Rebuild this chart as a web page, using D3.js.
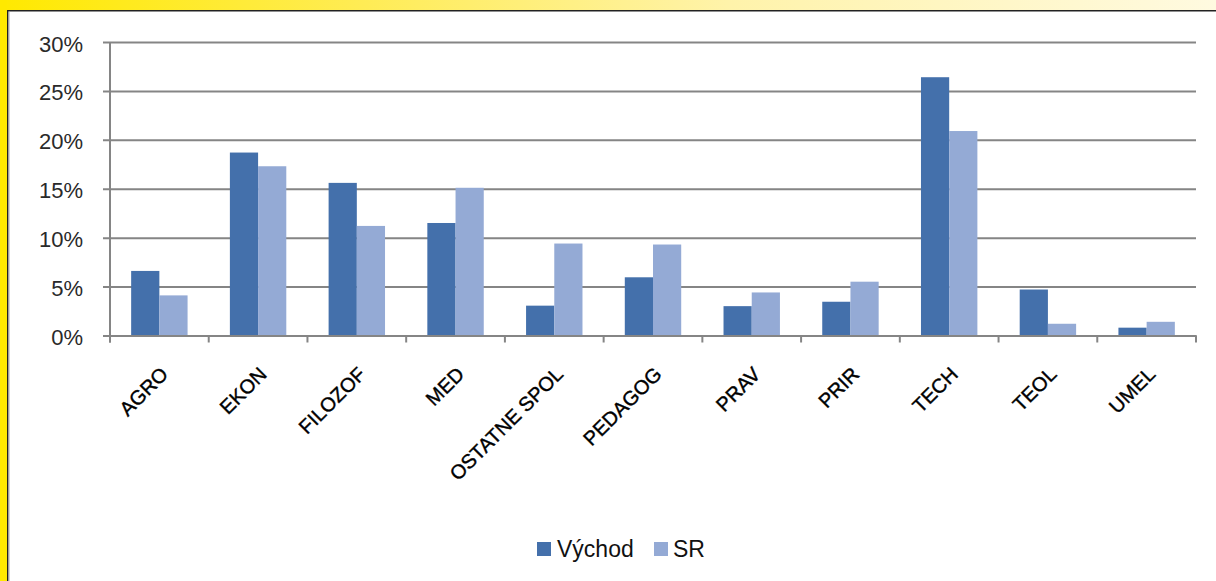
<!DOCTYPE html>
<html>
<head>
<meta charset="utf-8">
<script src="https://cdn.jsdelivr.net/npm/d3@7"></script>
<style>
  html, body { margin: 0; padding: 0; background: #fff; }
  svg { display: block; }
</style>
</head>
<body>
<svg id="chart" width="1216" height="581"></svg>
<script>
const categories = ["AGRO", "EKON", "FILOZOF", "MED", "OSTATNE SPOL", "PEDAGOG", "PRAV", "PRIR", "TECH", "TEOL", "UMEL"];
const seriesNames = ["Východ", "SR"];
const vychod = [6.6, 18.7, 15.6, 11.5, 3.05, 5.95, 3.0, 3.45, 26.4, 4.7, 0.8];
const sr = [4.1, 17.3, 11.2, 15.1, 9.4, 9.3, 4.4, 5.5, 20.9, 1.2, 1.4];
const yTicks = [0, 5, 10, 15, 20, 25, 30];
const colors = ["#4470AB", "#94AAD5"];

(function () {
const svg = d3.select("#chart");
const W = 1216, H = 581;
const pLeft = 110, pRight = 1196, pTop = 42, pBottom = 335.5;

// frame
const defs = svg.append("defs");
const grad = defs.append("linearGradient").attr("id", "topGrad").attr("x1", "0").attr("x2", "1").attr("y1", "0").attr("y2", "0");
grad.append("stop").attr("offset", "0").attr("stop-color", "#FFE900");
grad.append("stop").attr("offset", "0.3").attr("stop-color", "#FFEC55");
grad.append("stop").attr("offset", "0.6").attr("stop-color", "#FFF3AA");
grad.append("stop").attr("offset", "1").attr("stop-color", "#FFFAE0");
svg.append("rect").attr("x", 0).attr("y", 0).attr("width", W).attr("height", 10).attr("fill", "url(#topGrad)");
svg.append("rect").attr("x", 0).attr("y", 0).attr("width", 7).attr("height", H).attr("fill", "#FFE900");
svg.append("rect").attr("x", 7).attr("y", 10).attr("width", W - 7).attr("height", 1.5).attr("fill", "#222");
svg.append("rect").attr("x", 7).attr("y", 10).attr("width", 1.5).attr("height", H - 10).attr("fill", "#222");
svg.append("rect").attr("x", 8.5).attr("y", 11.5).attr("width", 1).attr("height", H - 11.5).attr("fill", "#aaa");

const x0 = d3.scaleBand().domain(categories).range([pLeft, pRight]).paddingInner(0).paddingOuter(0);
const x1 = d3.scaleBand().domain(seriesNames).range([0, x0.bandwidth()]).paddingInner(0).paddingOuter(0.75);
const y = d3.scaleLinear().domain([0, 30]).range([pBottom, pTop]);

// gridlines
const yAxis = d3.axisLeft(y).tickValues(yTicks).tickSize(-(pRight - pLeft)).tickPadding(0).tickFormat("");
const gy = svg.append("g").attr("transform", `translate(${pLeft},0)`).call(yAxis);
gy.select(".domain").remove();
gy.selectAll(".tick line").attr("stroke", "#858585").attr("stroke-width", 2).attr("x1", -7);

// y labels
svg.append("g").selectAll("text").data(yTicks).join("text")
  .attr("x", 83).attr("y", d => y(d) + 2)
  .attr("text-anchor", "end").attr("dominant-baseline", "central")
  .attr("font-family", "Liberation Sans, Arial, sans-serif").attr("font-size", 22)
  .attr("fill", "#2a2a2a")
  .text(d => d + "%");

// bars
const data = categories.map((c, i) => ({ cat: c, vals: [vychod[i], sr[i]] }));
const groups = svg.append("g").selectAll("g").data(data).join("g")
  .attr("transform", d => `translate(${x0(d.cat)},0)`);
groups.selectAll("rect").data(d => d.vals.map((v, k) => ({ k, v }))).join("rect")
  .attr("x", d => x1(seriesNames[d.k]))
  .attr("width", x1.bandwidth())
  .attr("y", d => y(d.v))
  .attr("height", d => y(0) - y(d.v))
  .attr("fill", d => colors[d.k]);

// y axis line
svg.append("line").attr("x1", pLeft).attr("x2", pLeft).attr("y1", pTop).attr("y2", pBottom + 7)
  .attr("stroke", "#858585").attr("stroke-width", 2);

// x axis
const xAxis = d3.axisBottom(x0).tickSize(0).tickFormat("");
const gx = svg.append("g").attr("transform", `translate(0,${pBottom})`).call(xAxis);
gx.select(".domain").attr("stroke", "#858585").attr("stroke-width", 2);
gx.selectAll(".tick").remove();
const bounds = categories.map(c => x0(c)).concat([pRight]);
svg.append("g").selectAll("line").data(bounds).join("line")
  .attr("x1", d => d).attr("x2", d => d).attr("y1", pBottom).attr("y2", pBottom + 7)
  .attr("stroke", "#858585").attr("stroke-width", 2);

// x labels
svg.append("g").selectAll("text").data(categories).join("text")
  .attr("transform", d => `translate(${x0(d) + x0.bandwidth() / 2 + 10},${pBottom + 40}) rotate(-45)`)
  .attr("text-anchor", "end")
  .attr("font-family", "Liberation Sans, Arial, sans-serif").attr("font-size", 20)
  .attr("fill", "#000").attr("stroke", "#000").attr("stroke-width", 0.4)
  .text(d => d);

// legend
const legendItems = [{ name: seriesNames[0], x: 537, tx: 557 }, { name: seriesNames[1], x: 654, tx: 673 }];
const lg = svg.append("g");
lg.selectAll("rect").data(legendItems).join("rect")
  .attr("x", d => d.x).attr("y", 542).attr("width", 14).attr("height", 14)
  .attr("fill", (d, i) => colors[i]);
lg.selectAll("text").data(legendItems).join("text")
  .attr("x", d => d.tx).attr("y", 557)
  .attr("font-family", "Liberation Sans, Arial, sans-serif").attr("font-size", 23)
  .attr("fill", "#111")
  .text(d => d.name);
})();
</script>
</body>
</html>
